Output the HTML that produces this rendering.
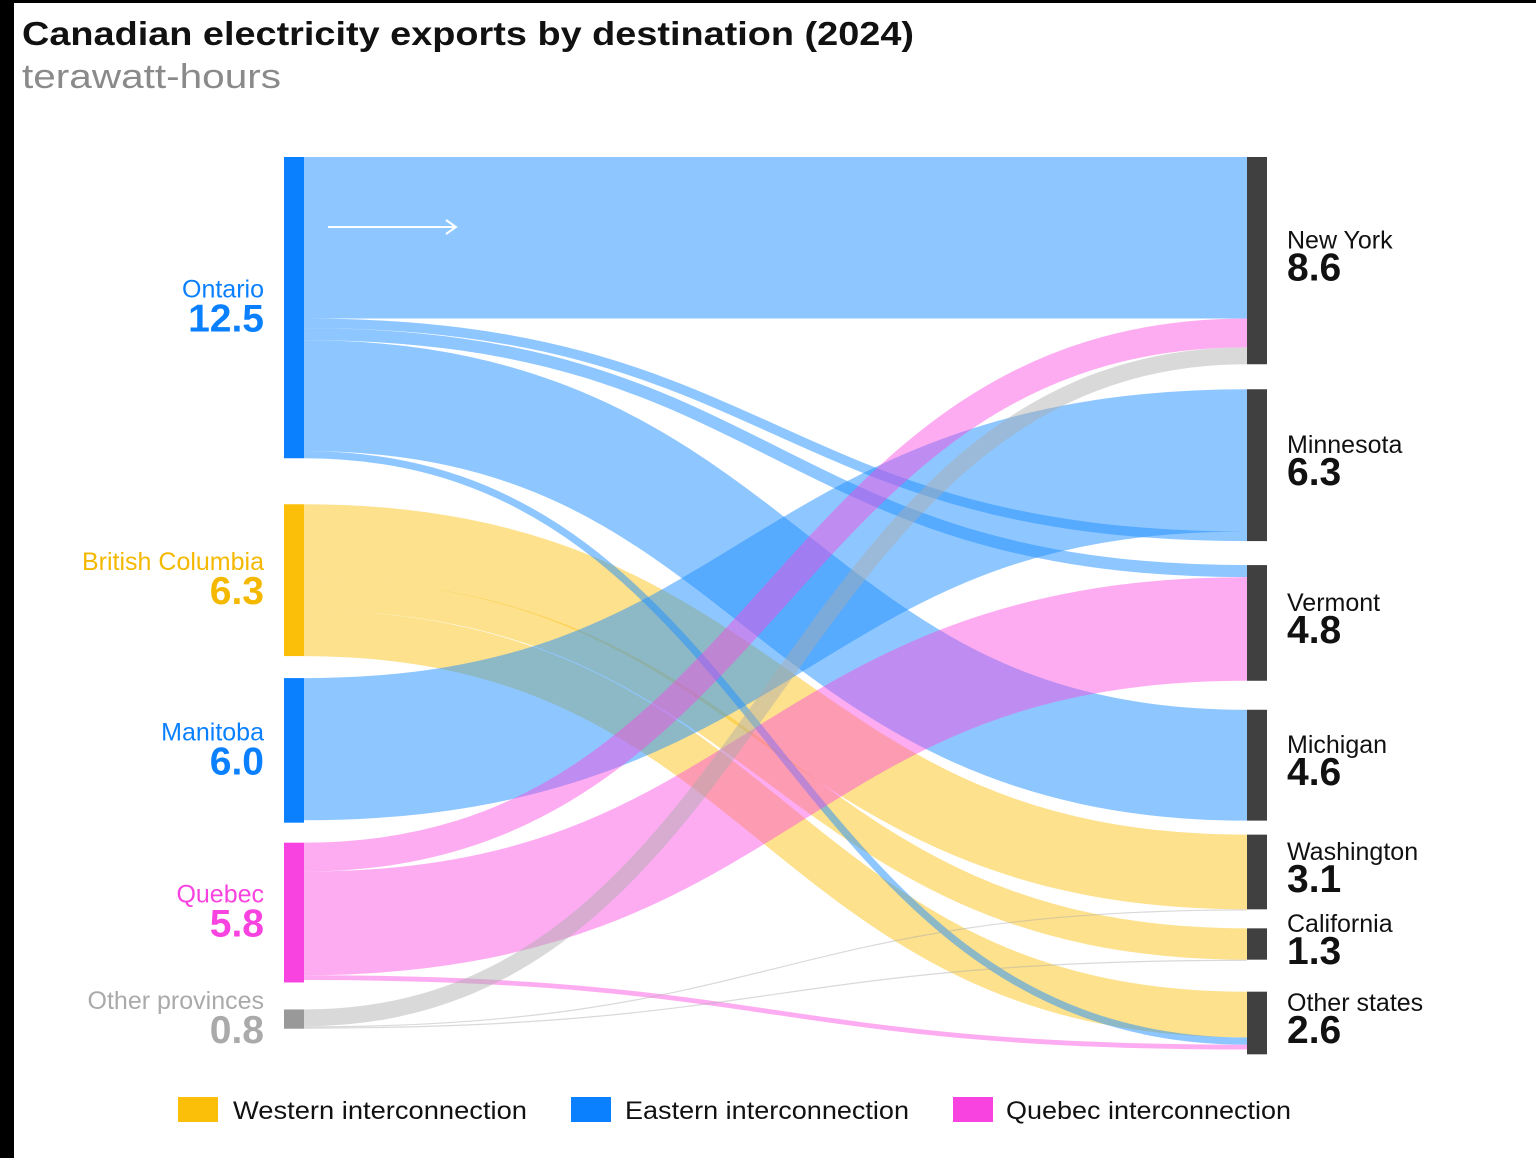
<!DOCTYPE html>
<html><head><meta charset="utf-8"><style>
html,body{margin:0;padding:0;background:#fff;}
svg{display:block;font-family:"Liberation Sans",sans-serif;}
</style></head><body>
<svg id="chart" width="1536" height="1158" viewBox="0 0 1536 1158" xmlns="http://www.w3.org/2000/svg">
<rect x="0" y="0" width="1536" height="1158" fill="#fff"/>
<rect x="0" y="0" width="14" height="1158" fill="#000"/>
<rect x="0" y="0" width="1536" height="3" fill="#000"/>
<text x="22" y="45" font-size="33" font-weight="bold" fill="#111" textLength="892" lengthAdjust="spacingAndGlyphs">Canadian electricity exports by destination (2024)</text>
<text x="22" y="88" font-size="34" fill="#8a8a8a" textLength="259" lengthAdjust="spacingAndGlyphs">terawatt-hours</text>
<g id="links"></g>
<g id="nodes"></g>
<g>
<line x1="328" y1="227" x2="456" y2="227" stroke="#fff" stroke-width="2"/>
<polyline points="446,220 456,227 446,234" fill="none" stroke="#fff" stroke-width="2"/>
</g>
<g>
<rect x="178" y="1097" width="40" height="25" fill="#fbbf0a"/>
<text x="233" y="1119" font-size="25" fill="#111" textLength="294" lengthAdjust="spacingAndGlyphs">Western interconnection</text>
<rect x="571" y="1097" width="40" height="25" fill="#0a80ff"/>
<text x="625" y="1119" font-size="25" fill="#111" textLength="284" lengthAdjust="spacingAndGlyphs">Eastern interconnection</text>
<rect x="953" y="1097" width="40" height="25" fill="#f943e0"/>
<text x="1006" y="1119" font-size="25" fill="#111" textLength="285" lengthAdjust="spacingAndGlyphs">Quebec interconnection</text>
</g>
</svg>
<script>
const sources = ["Ontario","British Columbia","Manitoba","Quebec","Other provinces"];
const sourceValues = [12.5, 6.3, 6.0, 5.8, 0.8];
const sourceLabels = ["12.5","6.3","6.0","5.8","0.8"];
const targets = ["New York","Minnesota","Vermont","Michigan","Washington","California","Other states"];
const targetValues = [8.6, 6.3, 4.8, 4.6, 3.1, 1.3, 2.6];
const targetLabels = ["8.6","6.3","4.8","4.6","3.1","1.3","2.6"];
const linkSource = [1,1,1,2,0,0,0,0,0,3,3,3,4,4,4];
const linkTarget = [4,5,6,1,0,1,2,3,6,0,2,6,0,4,5];
const linkValue  = [3.1,1.3,1.9,5.9,6.7,0.4,0.5,4.6,0.3,1.2,4.3,0.2,0.7,0.05,0.05];

const NS="http://www.w3.org/2000/svg";
const scale=24.1, chartTop=157, leftX=284, rightX=1247, nodeW=20;
const leftGaps=[46,22,20,27];
const rightGaps=[25,24,29,14,19,32];
const srcColor=["#0a80ff","#fbbf0a","#0a80ff","#f943e0","#999999"];
const flowColor=["#1e8fff","#fcc419","#1e8fff","#fa46e0","#aaaaaa"];
const flowOp=[0.5,0.5,0.5,0.45,0.45];
const srcTextColor=["#0a80ff","#f5b800","#0a80ff","#f943e0","#aaaaaa"];

function layout(vals,gaps){
  const ys=[];let y=chartTop;
  vals.forEach((v,i)=>{ys.push(y);y+=v*scale+(gaps[i]||0);});
  return ys;
}
const sy=layout(sourceValues,leftGaps), ty=layout(targetValues,rightGaps);
const sOff=sy.slice(), tOff=ty.slice();
const lg=document.getElementById('links');
linkValue.forEach((v,i)=>{
  const s=linkSource[i],t=linkTarget[i];
  const w=Math.max(v*scale,1.2);
  const y0=sOff[s]+w/2, y1=tOff[t]+w/2;
  sOff[s]+=v*scale; tOff[t]+=v*scale;
  const x0=leftX+nodeW, x1=rightX, xm=(x0+x1)/2;
  const p=document.createElementNS(NS,'path');
  p.setAttribute('d',`M${x0},${y0}C${xm},${y0} ${xm},${y1} ${x1},${y1}`);
  p.setAttribute('fill','none');
  p.setAttribute('stroke',flowColor[s]);
  p.setAttribute('stroke-opacity',flowOp[s]);
  p.setAttribute('stroke-width',w);
  
  
  lg.appendChild(p);
});
const ng=document.getElementById('nodes');
function txt(x,y,str,size,weight,fill,anchor,name){
  const e=document.createElementNS(NS,'text');
  e.setAttribute('x',x);e.setAttribute('y',y);e.setAttribute('font-size',size);
  e.setAttribute('font-weight',weight);e.setAttribute('fill',fill);e.setAttribute('text-anchor',anchor);
  e.textContent=str;
  
  
  ng.appendChild(e);
}
sources.forEach((n,i)=>{
  const h=sourceValues[i]*scale;
  const r=document.createElementNS(NS,'rect');
  r.setAttribute('x',leftX);r.setAttribute('y',sy[i]);r.setAttribute('width',nodeW);r.setAttribute('height',h);
  r.setAttribute('fill',srcColor[i]);
  
  
  ng.appendChild(r);
  const c=sy[i]+h/2;
  txt(264,c-10,n,25,'normal',srcTextColor[i],'end','source-label');
  txt(264,c+24,sourceLabels[i],39,'bold',srcTextColor[i],'end','source-value');
});
targets.forEach((n,i)=>{
  const h=targetValues[i]*scale;
  const r=document.createElementNS(NS,'rect');
  r.setAttribute('x',rightX);r.setAttribute('y',ty[i]);r.setAttribute('width',nodeW);r.setAttribute('height',h);
  r.setAttribute('fill','#404040');
  
  
  ng.appendChild(r);
  const c=ty[i]+h/2;
  txt(1287,c-12,n,25,'normal','#111','start','target-label');
  txt(1287,c+20,targetLabels[i],39,'bold','#111','start','target-value');
});
</script>
</body></html>
